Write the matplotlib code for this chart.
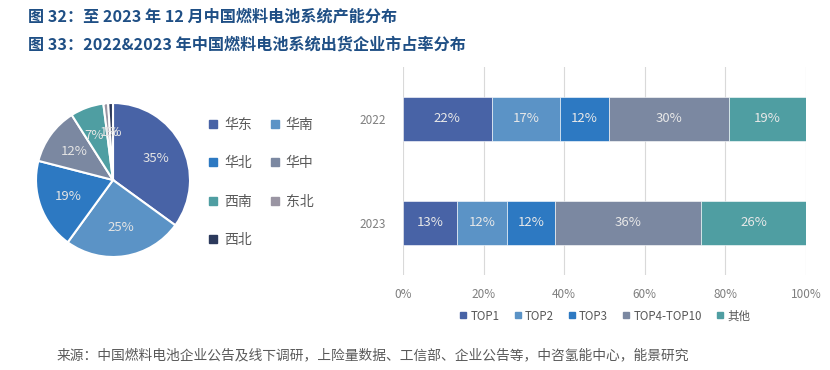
import matplotlib
matplotlib.use('Agg')
import matplotlib.pyplot as plt
from matplotlib.lines import Line2D

plt.rcParams['font.family'] = ['Noto Sans CJK SC', 'DejaVu Sans']

# ---- data ----
regions = ['华东', '华南', '华北', '华中', '西南', '东北', '西北']
region_share = [35, 25, 19, 12, 7, 1, 1]
region_colors = ['#4863a6', '#5b93c6', '#2d79c2', '#7b88a1', '#4f9ea2', '#9a95a3', '#2c3a5c']

years = ['2022', '2023']
groups = ['TOP1', 'TOP2', 'TOP3', 'TOP4-TOP10', '其他']
share_2022 = [22, 17, 12, 30, 19]
share_2023 = [13.3, 12.5, 12.0, 36.2, 26.0]
group_colors = ['#4863a6', '#5b93c6', '#2d79c2', '#7b88a1', '#4f9ea2']

title1 = '图 32：至 2023 年 12 月中国燃料电池系统产能分布'
title2 = '图 33：2022&2023 年中国燃料电池系统出货企业市占率分布'
source = '来源：中国燃料电池企业公告及线下调研，上险量数据、工信部、企业公告等，中咨氢能中心，能景研究'

W, H = 830, 370
fig = plt.figure(figsize=(W / 100, H / 100), dpi=100)

def fx(px):
    return px / W

def fy(py):
    return 1 - py / H

title_color = '#1f4f85'
fig.text(fx(28), fy(17), title1, fontsize=11.6, fontweight='bold', color=title_color, va='center')
fig.text(fx(28), fy(45), title2, fontsize=11.6, fontweight='bold', color=title_color, va='center')

# ---- pie ----
cx, cy, r = 113, 180, 77
axp = fig.add_axes([fx(cx - r), fy(cy + r), 2 * r / W, 2 * r / H])
wedges, texts, autotexts = axp.pie(region_share, colors=region_colors, startangle=90,
                                   counterclock=False, autopct='%d%%', pctdistance=0.62,
                                   wedgeprops=dict(edgecolor='white', linewidth=1.5),
                                   textprops=dict(color='#e4e4e4', fontsize=9.5))
# the two 1% labels sit on top of each other in the original, spread them a little
autotexts[5].set_x(autotexts[5].get_position()[0] + 0.05)
autotexts[6].set_x(autotexts[6].get_position()[0] - 0.03)
autotexts[4].set_x(autotexts[4].get_position()[0] - 0.03)
axp.set_xlim(-1, 1)
axp.set_ylim(-1, 1)
axp.set_aspect('equal')

handles = [Line2D([], [], marker='s', linestyle='none', markersize=5.5, color=c) for c in region_colors]
order = [0, 2, 4, 6, 1, 3, 5]
fig.legend([handles[i] for i in order], [regions[i] for i in order], ncol=2,
           loc='upper left', bbox_to_anchor=(fx(208), fy(118)), frameon=False,
           fontsize=10, labelcolor='#595959', labelspacing=1.75, handlelength=0.7,
           handletextpad=0.45, columnspacing=1.3, borderpad=0, borderaxespad=0)

# ---- stacked bars ----
axb = fig.add_axes([fx(403), fy(275), fx(806) - fx(403), (275 - 67) / H])
ypos = [1, 0]
data = [share_2022, share_2023]
left = [0, 0]
for j, g in enumerate(groups):
    vals = [data[i][j] for i in range(len(years))]
    bars = axb.barh(ypos, vals, left=left, height=0.42, color=group_colors[j],
                    edgecolor='white', linewidth=0.4, label=g)
    axb.bar_label(bars, labels=[f'{v:.0f}%' for v in vals], label_type='center',
                  color='#e8e8e8', fontsize=9.5)
    left = [left[i] + vals[i] for i in range(len(years))]

axb.set_xlim(0, 100)
axb.set_ylim(-0.5, 1.5)
axb.set_yticks(ypos)
axb.set_yticklabels(years)
axb.set_xticks(range(0, 101, 20))
axb.set_xticklabels([f'{t}%' for t in range(0, 101, 20)])
axb.tick_params(length=0, labelsize=8.5, labelcolor='#7f7f7f')
axb.tick_params(axis='x', pad=9)
axb.tick_params(axis='y', pad=12)
axb.grid(axis='x', color='#d9d9d9', linewidth=0.8)
axb.set_axisbelow(True)
for s in axb.spines.values():
    s.set_visible(False)

h2 = [Line2D([], [], marker='s', linestyle='none', markersize=5, color=c) for c in group_colors]
fig.legend(h2, groups, ncol=5, loc='center', bbox_to_anchor=(fx(605), fy(316)), frameon=False,
           fontsize=8.3, labelcolor='#595959', handlelength=0.6, handletextpad=0.3,
           columnspacing=1.3, borderpad=0, borderaxespad=0)

fig.text(fx(57), fy(355), source, fontsize=9.9, color='#595959', va='center')

fig.savefig('out.png', dpi=100)
